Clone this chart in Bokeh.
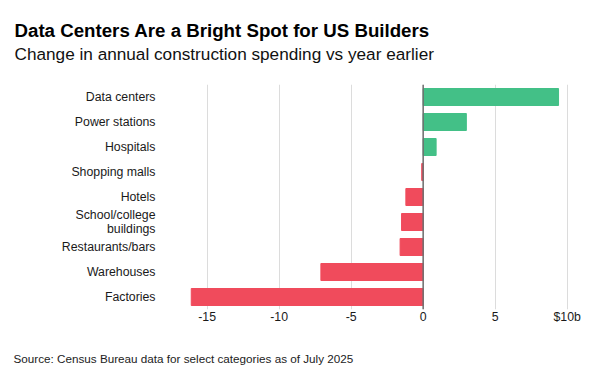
from bokeh.plotting import figure
from bokeh.models import Title, FixedTicker, Span, ColumnDataSource
from bokeh.embed import file_html
from bokeh.resources import INLINE

categories = ["Data centers", "Power stations", "Hospitals", "Shopping malls", "Hotels",
              "School/college\nbuildings", "Restaurants/bars", "Warehouses", "Factories"]
values = [9.4, 3.0, 0.9, -0.1, -1.2, -1.5, -1.6, -7.1, -16.1]
tick_values = [-15, -10, -5, 0, 5, 10]
tick_labels = ["-15", "-10", "-5", "0", "5", "$10b"]
title_text = "Data Centers Are a Bright Spot for US Builders"
subtitle_text = "Change in annual construction spending vs year earlier"
source_text = "Source: Census Bureau data for select categories as of July 2025"

GREEN = "#43c087"
RED = "#f04b5c"
colors = [GREEN if v >= 0 else RED for v in values]

src = ColumnDataSource(dict(cat=categories, val=values, zero=[0] * len(values), color=colors))

W, H = 593, 369
FL, FR, FT, FB = 185, 571, 84, 309   # frame edges in canvas pixels
p = figure(width=W, height=H, y_range=list(reversed(categories)), x_range=(-16.5, 10.3),
           output_backend="svg", toolbar_location=None,
           min_border_left=FL, min_border_right=W - FR, min_border_top=FT, min_border_bottom=H - FB)

p.hbar(y="cat", left="zero", right="val", height=0.68, color="color", source=src)

p.outline_line_color = None
p.ygrid.grid_line_color = None
p.xgrid.grid_line_color = "#dcdcdc"
p.xgrid.grid_line_width = 1
p.xaxis.ticker = FixedTicker(ticks=tick_values)
p.xaxis.major_label_overrides = {t: l for t, l in zip(tick_values, tick_labels)}
p.xaxis.axis_line_color = None
p.xaxis.major_tick_line_color = None
p.xaxis.minor_tick_line_color = None
p.xaxis.major_tick_out = 0
p.xaxis.major_tick_in = 0
p.xaxis.major_label_standoff = 0
p.xaxis.major_label_text_font = "Liberation Sans"
p.xaxis.major_label_text_font_size = "12.3px"
p.xaxis.major_label_text_color = "#1a1a1a"

p.yaxis.axis_line_color = None
p.yaxis.major_tick_line_color = None
p.yaxis.minor_tick_line_color = None
p.yaxis.major_tick_out = 0
p.yaxis.major_tick_in = 0
p.yaxis.major_label_standoff = 30
p.yaxis.major_label_text_font = "Liberation Sans"
p.yaxis.major_label_text_font_size = "12.3px"
p.yaxis.major_label_text_color = "#1a1a1a"
p.yaxis.major_label_text_line_height = 0.95

zero_line = Span(location=0, dimension="height", line_color="#6e6e6e", line_width=1.5)
p.add_layout(zero_line)

# above panel, from the frame upward: blank spacer, subtitle, main title
p.title.text = title_text
p.title.text_font = "Liberation Sans"
p.title.text_font_size = "18.7px"
p.title.text_font_style = "bold"
p.title.text_color = "#000000"
p.title.align = "left"
p.title.offset = 14 - FL
p.title.standoff = 2

p.add_layout(Title(text=" ", text_font_size="1px", standoff=18.3), "above")
subtitle = Title(text=subtitle_text, text_font="Liberation Sans", text_font_size="17.2px",
                 text_font_style="normal", text_color="#111111", align="left",
                 offset=14 - FL, standoff=0)
p.add_layout(subtitle, "above")

# below panel, from frame down: x axis, blank spacer, source note
p.add_layout(Title(text=" ", text_font_size="1px", standoff=19.9), "below")
source_title = Title(text=source_text, text_font="Liberation Sans", text_font_size="11.7px",
                     text_font_style="normal", text_color="#222222", align="left",
                     offset=13 - FL, standoff=0)
p.add_layout(source_title, "below")

open("out.html", "w").write(file_html(p, INLINE))
